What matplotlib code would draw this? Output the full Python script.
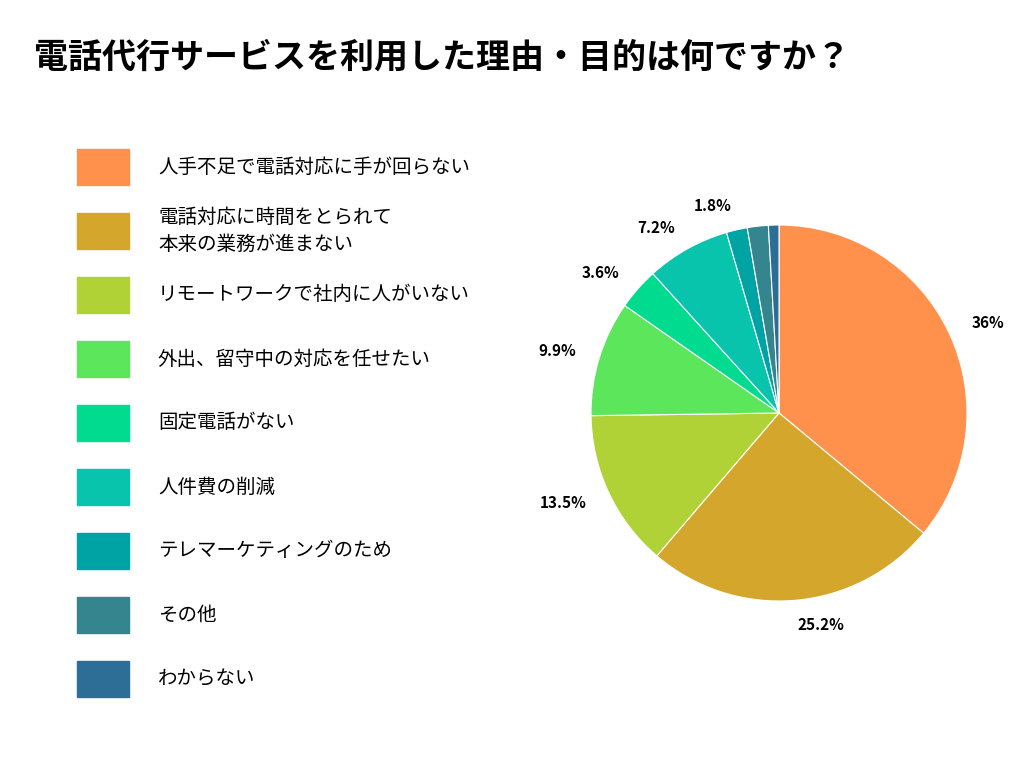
import matplotlib.pyplot as plt
from matplotlib.patches import Rectangle

plt.rcParams['font.family'] = ['Noto Sans CJK JP']

title = '電話代行サービスを利用した理由・目的は何ですか？'
categories = ['人手不足で電話対応に手が回らない',
              '電話対応に時間をとられて\n本来の業務が進まない',
              'リモートワークで社内に人がいない',
              '外出、留守中の対応を任せたい',
              '固定電話がない',
              '人件費の削減',
              'テレマーケティングのため',
              'その他',
              'わからない']
values = [36, 25.2, 13.5, 9.9, 3.6, 7.2, 1.8, 1.8, 0.9]
labels = ['36%', '25.2%', '13.5%', '9.9%', '3.6%', '7.2%', '1.8%', '', '']
colors = ['#FF914D', '#D4A72C', '#B0D236', '#5CE65C', '#00DB8F',
          '#08C4AC', '#00A3A3', '#34858E', '#2D6E96']

fig = plt.figure(figsize=(10.24, 7.68), dpi=100)
fig.text(0.033, 0.925, title, fontsize=24.5, fontweight='bold', va='center')

# legend drawn by hand on the left
for i, (cat, col) in enumerate(zip(categories, colors)):
    y = 1 - (167 + i * 64) / 768
    fig.patches.append(Rectangle((77 / 1024, y - 18 / 768), 52 / 1024, 36 / 768,
                                 transform=fig.transFigure, color=col))
    fig.text(158 / 1024, y, cat, fontsize=14, va='center', linespacing=1.4)

ax = fig.add_axes([(779 - 188) / 1024, (768 - 413 - 188) / 768, 376 / 1024, 376 / 768])
wedges, texts = ax.pie(values, colors=colors, startangle=90, counterclock=False,
                       labels=labels, labeldistance=1.13,
                       wedgeprops=dict(linewidth=0.8, edgecolor='white'),
                       textprops=dict(fontsize=11, fontweight='bold'))
ax.set_xlim(-1, 1)
ax.set_ylim(-1, 1)
ax.set_aspect('equal')

fig.savefig('out.png', dpi=100, facecolor='white')
